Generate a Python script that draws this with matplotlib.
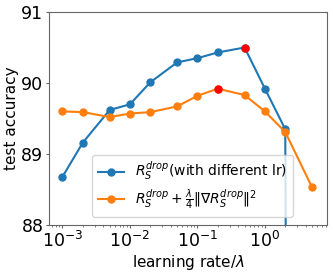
import matplotlib
matplotlib.use("Agg")
import matplotlib.pyplot as plt
import numpy as np

lr_blue = [0.001, 0.002, 0.005, 0.01, 0.02, 0.05, 0.1, 0.2, 0.5, 1, 2, 5]
acc_blue = [88.68, 89.16, 89.62, 89.70, 90.01, 90.29, 90.35, 90.43, 90.50, 89.92, 89.35, 10.0]
lam_orange = [0.001, 0.002, 0.005, 0.01, 0.02, 0.05, 0.1, 0.2, 0.5, 1, 2, 5]
acc_orange = [89.60, 89.59, 89.52, 89.57, 89.59, 89.67, 89.82, 89.92, 89.83, 89.60, 89.31, 88.53]

fig = plt.figure(figsize=(3.33, 2.72), dpi=100)
ax = fig.add_axes([49/333, 1-225/272, 278/333, 213/272])

ax.plot(lr_blue, acc_blue, '-o', color='#1f77b4', lw=1.5, ms=5,
        label=r"$R_S^{drop}$(with different lr)")
ax.plot(lam_orange, acc_orange, '-o', color='#ff7f0e', lw=1.5, ms=5,
        label=r"$R_S^{drop}+\frac{\lambda}{4}\|\nabla R_S^{drop}\|^2$")
ib = int(np.argmax(acc_blue))
io = int(np.argmax(acc_orange))
ax.plot([lr_blue[ib]], [acc_blue[ib]], 'o', color='red', ms=5, zorder=5)
ax.plot([lam_orange[io]], [acc_orange[io]], 'o', color='red', ms=5, zorder=5)

ax.set_xscale('log')
ax.set_ylim(88, 91)
ax.set_xlim(10**-3.2, 10**0.92)
ax.set_yticks([88, 89, 90, 91])
for s in ax.spines.values():
    s.set_color('0.4')
ax.tick_params(which='major', labelsize=12.5, length=2.5, pad=1.5, color='0.4')
ax.tick_params(which='minor', length=1.5, color='0.4')
ax.set_xlabel(r"learning rate/$\lambda$", fontsize=11, labelpad=2)
ax.set_ylabel("test accuracy", fontsize=11, labelpad=2)
ax.legend(loc='lower right', bbox_to_anchor=(0.878, 0.038), borderaxespad=0,
          fontsize=10, labelspacing=0.3, handlelength=1.9)
fig.savefig("out.png", dpi=100)
